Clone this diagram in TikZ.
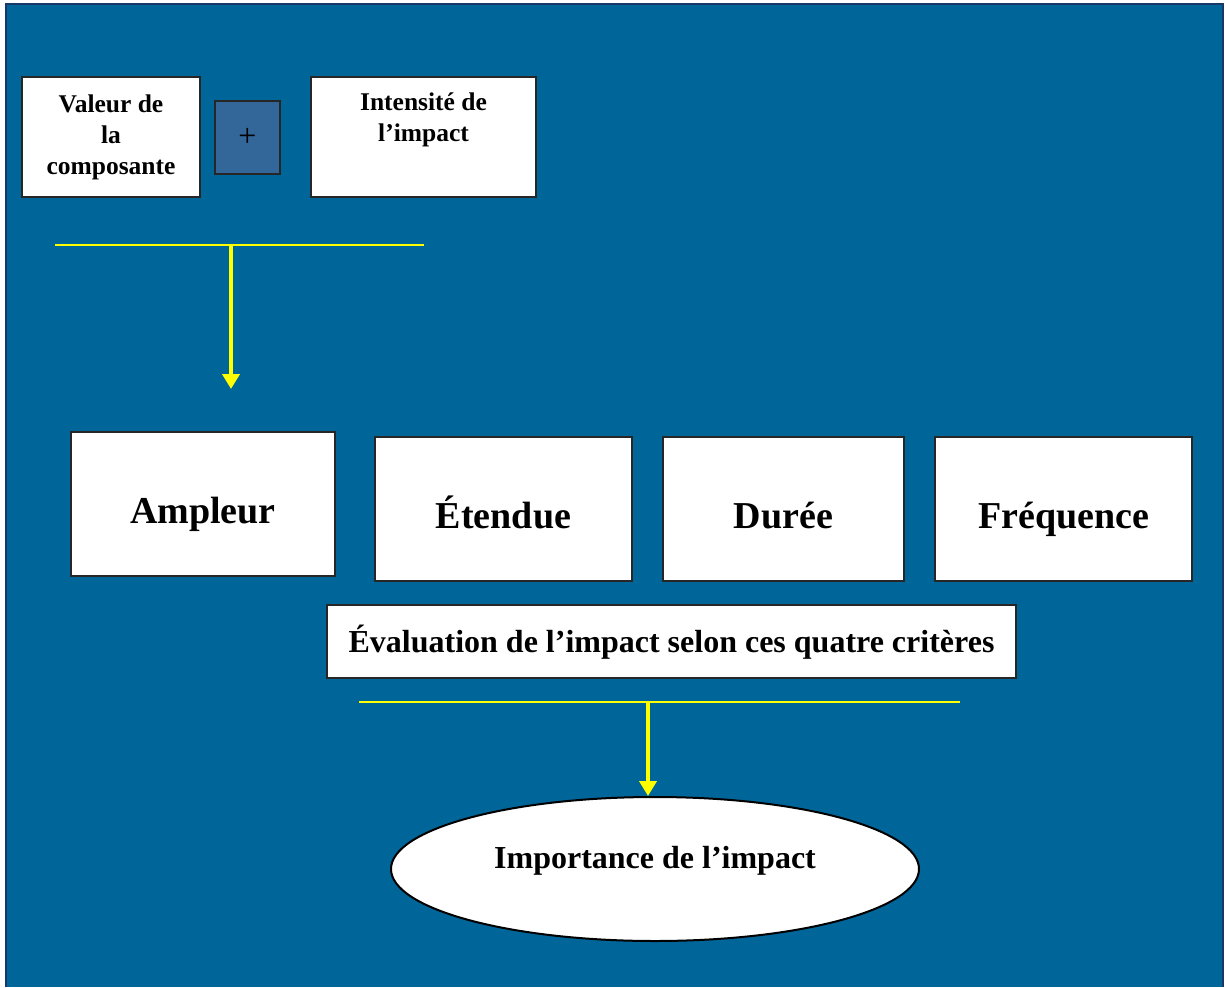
\documentclass[tikz,border=0pt]{standalone}
\usepackage{fontspec}
\setmainfont{Liberation Serif}
\usepackage{tikz}
\usetikzlibrary{shapes.geometric, arrows.meta, positioning, calc}

\definecolor{bgblue}{RGB}{0,102,153}
\definecolor{bgedge}{RGB}{25,55,105}
\definecolor{plusblue}{RGB}{51,102,153}
\definecolor{linkyellow}{RGB}{255,255,0}

\tikzset{
  whitebox/.style={draw=black!85, fill=white, line width=2pt, inner sep=0pt, align=center},
  smallfont/.style={font=\fontsize{25.5}{31}\selectfont\bfseries},
  bigfont/.style={font=\fontsize{38}{44}\selectfont\bfseries, text height=39pt, text depth=1pt},
  evalfont/.style={font=\fontsize{32}{38}\selectfont\bfseries, text height=26pt, text depth=5pt},
  yline/.style={linkyellow, line width=2pt},
  yarrow/.style={linkyellow, line width=4pt, -{Triangle[length=15pt,width=17pt]}}
}

\begin{document}
\begin{tikzpicture}[x=1pt, y=-1pt]
\useasboundingbox (0,0) rectangle (1225,987);
% Background panel
\fill[white] (0,0) rectangle (1225,987);
\fill[bgblue] (6,4) rectangle (1223,987);
\draw[bgedge, line width=2.5pt] (6,987) -- (6,4) -- (1223,4) -- (1223,987);

% Top row: component value + intensity
\node[whitebox, smallfont, minimum width=178pt, minimum height=120pt] (valeur) at (111,137)
  {Valeur de\\la\\composante};
\node[draw=black!85, fill=plusblue, line width=2pt, minimum width=65pt, minimum height=73pt,
  inner sep=0pt, font=\fontsize{32}{36}\selectfont] (plus) at (247.5,137.5) {+};
\node[whitebox, smallfont, minimum width=225pt, minimum height=120pt] (intensite) at (423.5,137)
  {Intensité de\\l’impact\\\strut};

% First yellow bar and arrow
\coordinate (barAleft) at (55,245);
\coordinate (barAright) at (424,245);
\coordinate (barAmid) at (231,245);
\coordinate (arrowAend) at (231,389);
\draw[yline] (barAleft) -- (barAright);
\draw[yarrow] (barAmid) -- (arrowAend);

% Four criteria
\node[whitebox, bigfont, minimum width=264pt, minimum height=144pt] (ampleur) at (203,504) {Ampleur};
\node[whitebox, bigfont, minimum width=257pt, minimum height=144pt] (etendue) at (503.5,509) {Étendue};
\node[whitebox, bigfont, minimum width=241pt, minimum height=144pt] (duree) at (783.5,509) {Durée};
\node[whitebox, bigfont, minimum width=257pt, minimum height=144pt] (frequence) at (1063.5,509) {Fréquence};

% Evaluation label
\node[whitebox, evalfont, minimum width=689pt, minimum height=73pt]
  (evaluation) at (671.5,641.5) {Évaluation de l’impact selon ces quatre critères};

% Second yellow bar and arrow
\coordinate (barBleft) at (359,702);
\coordinate (barBright) at (960,702);
\coordinate (barBmid) at (648,702);
\draw[yline] (barBleft) -- (barBright);

% Result
\node[ellipse, draw=black, fill=white, line width=2pt, minimum width=528pt, minimum height=144pt,
  inner sep=0pt] (importance) at (655,869) {};
\node[anchor=base, font=\fontsize{32}{38}\selectfont\bfseries] (importancetxt) at (655,868)
  {Importance de l’impact};
\draw[yarrow] (barBmid) -- (barBmid |- importance.north);
\end{tikzpicture}
\end{document}
